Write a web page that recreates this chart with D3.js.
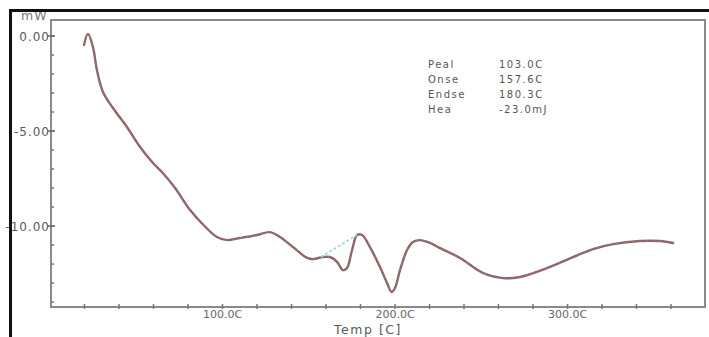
<!DOCTYPE html>
<html>
<head>
<meta charset="utf-8">
<script src="https://cdn.jsdelivr.net/npm/d3@7"></script>
<style>
  html, body { margin: 0; padding: 0; background: #fff; }
  svg { display: block; }
  text { font-family: "DejaVu Sans", Verdana, sans-serif; }
</style>
</head>
<body>
<svg id="chart" width="709" height="337"></svg>
<script>
// DSC heat-flow trace: temperature (C) vs heat flow (mW)
const temps = [19.7, 22.0, 24.9, 27.2, 30.7, 36.5, 44.6, 52.2, 59.7, 64.9, 72.5, 81.2, 90.1, 96.8,
  102.6, 110.1, 120.0, 127.5, 133.3, 140.9, 149.0, 152.5, 158.3, 162.3, 166.4, 169.9, 172.2, 175.1,
  178.0, 180.9, 185.5, 191.3, 195.4, 198.0, 200.0, 202.9, 207.0, 210.4, 214.5, 220.3, 226.1, 237.7,
  251.0, 262.6, 272.5, 288.1, 303.2, 314.8, 326.4, 342.0, 353.6, 361.2];
const heatFlow = [-0.47, 0.11, -0.58, -1.79, -2.95, -3.79, -4.79, -5.84, -6.68, -7.16, -8.0, -9.16, -10.05, -10.58,
  -10.74, -10.63, -10.47, -10.32, -10.58, -11.11, -11.68, -11.74, -11.63, -11.63, -11.89, -12.32, -12.21, -11.26,
  -10.47, -10.47, -11.11, -12.16, -13.0, -13.47, -13.26, -12.32, -11.26, -10.84, -10.74, -10.89, -11.16, -11.68,
  -12.47, -12.74, -12.68, -12.21, -11.63, -11.21, -10.95, -10.79, -10.79, -10.89];

// integration baseline of the first event (onset -> endset)
const baseT = [157.0, 178.0];
const baseH = [-11.63, -10.47];

const xTicksMajor = [100, 200, 300];
const xTickLabels = ["100.0C", "200.0C", "300.0C"];
const yTicksMajor = [0, -5, -10];
const yTickLabels = ["0.00", "-5.00", "-10.00"];

const resultKeys = ["Peal", "Onse", "Endse", "Hea"];
const resultVals = ["103.0C", "157.6C", "180.3C", "-23.0mJ"];

const svg = d3.select("#chart");
const plotL = 51, plotR = 705, plotT = 20, plotB = 307;

const x = d3.scaleLinear().domain([0, 380]).range([50, 705.5]);
const y = d3.scaleLinear().domain([0, -14.26]).range([36, 307]);

// plot frame
svg.append("rect")
  .attr("x", plotL).attr("y", plotT)
  .attr("width", plotR - plotL).attr("height", plotB - plotT)
  .attr("fill", "none").attr("stroke", "#8a8a8a").attr("stroke-width", 2);

// y axis ticks
const yMinor = d3.range(0, -15, -1).filter(v => y(v) > plotT && y(v) < plotB);
svg.append("g").selectAll("line").data(yMinor).join("line")
  .attr("x1", plotL).attr("x2", plotL + 3)
  .attr("y1", d => y(d)).attr("y2", d => y(d))
  .attr("stroke", "#777").attr("stroke-width", 1.5);
svg.append("g").selectAll("line").data(yTicksMajor).join("line")
  .attr("x1", plotL - 3).attr("x2", plotL + 4)
  .attr("y1", d => y(d)).attr("y2", d => y(d))
  .attr("stroke", "#666").attr("stroke-width", 1.5);
svg.append("g").selectAll("text").data(yTicksMajor).join("text")
  .attr("x", plotL - 1).attr("y", d => y(d) + 4.5)
  .attr("text-anchor", "end").attr("font-size", 12)
  .attr("letter-spacing", 1)
  .attr("fill", "#5a5a5a")
  .text((d, i) => yTickLabels[i]);

// x axis ticks
const xMinor = d3.range(20, 380, 20);
svg.append("g").selectAll("line").data(xMinor).join("line")
  .attr("x1", d => x(d)).attr("x2", d => x(d))
  .attr("y1", plotB - 3).attr("y2", plotB + 2)
  .attr("stroke", "#777").attr("stroke-width", 1.5);
svg.append("g").selectAll("text").data(xTicksMajor).join("text")
  .attr("x", d => x(d)).attr("y", plotB + 11)
  .attr("text-anchor", "middle").attr("font-size", 11)
  .attr("fill", "#666")
  .text((d, i) => xTickLabels[i]);

svg.append("text")
  .attr("x", 368).attr("y", 334)
  .attr("text-anchor", "middle").attr("font-size", 12.5)
  .attr("letter-spacing", 1.5).attr("fill", "#5a5a5a")
  .text("Temp [C]");

svg.append("text")
  .attr("x", 21).attr("y", 20)
  .attr("font-size", 12.5).attr("letter-spacing", 1).attr("fill", "#777")
  .text("mW");

// DSC curve
const pts = temps.map((t, i) => [t, heatFlow[i]]);
const line = d3.line().x(d => x(d[0])).y(d => y(d[1])).curve(d3.curveCatmullRom.alpha(0.5));
svg.append("path").datum(pts)
  .attr("d", line)
  .attr("fill", "none").attr("stroke", "#8a6668").attr("stroke-width", 2.4)
  .attr("stroke-linejoin", "round").attr("stroke-linecap", "round");
svg.append("path").datum(pts)
  .attr("d", line)
  .attr("fill", "none").attr("stroke", "#b07a7c").attr("stroke-width", 1)
  .attr("stroke-dasharray", "3,4").attr("opacity", 0.6);

// baseline of the integrated event
svg.append("line")
  .attr("x1", x(baseT[0])).attr("y1", y(baseH[0]))
  .attr("x2", x(baseT[1])).attr("y2", y(baseH[1]))
  .attr("stroke", "#8fd6e6").attr("stroke-width", 1.6)
  .attr("stroke-dasharray", "3,2");

// analysis results
const res = svg.append("g");
res.selectAll("text.k").data(resultKeys).join("text")
  .attr("class", "k")
  .attr("x", 428).attr("y", (d, i) => 68 + i * 15)
  .attr("font-size", 10).attr("letter-spacing", 1.5).attr("fill", "#555")
  .text(d => d);
res.selectAll("text.v").data(resultVals).join("text")
  .attr("class", "v")
  .attr("x", 499).attr("y", (d, i) => 68 + i * 15)
  .attr("font-size", 10).attr("letter-spacing", 1.5).attr("fill", "#555")
  .text(d => d);

// outer border
svg.append("line").attr("x1", 9).attr("x2", 709).attr("y1", 10.5).attr("y2", 10.5)
  .attr("stroke", "#111").attr("stroke-width", 3);
svg.append("line").attr("x1", 10.5).attr("x2", 10.5).attr("y1", 9).attr("y2", 337)
  .attr("stroke", "#111").attr("stroke-width", 3);
</script>
</body>
</html>
